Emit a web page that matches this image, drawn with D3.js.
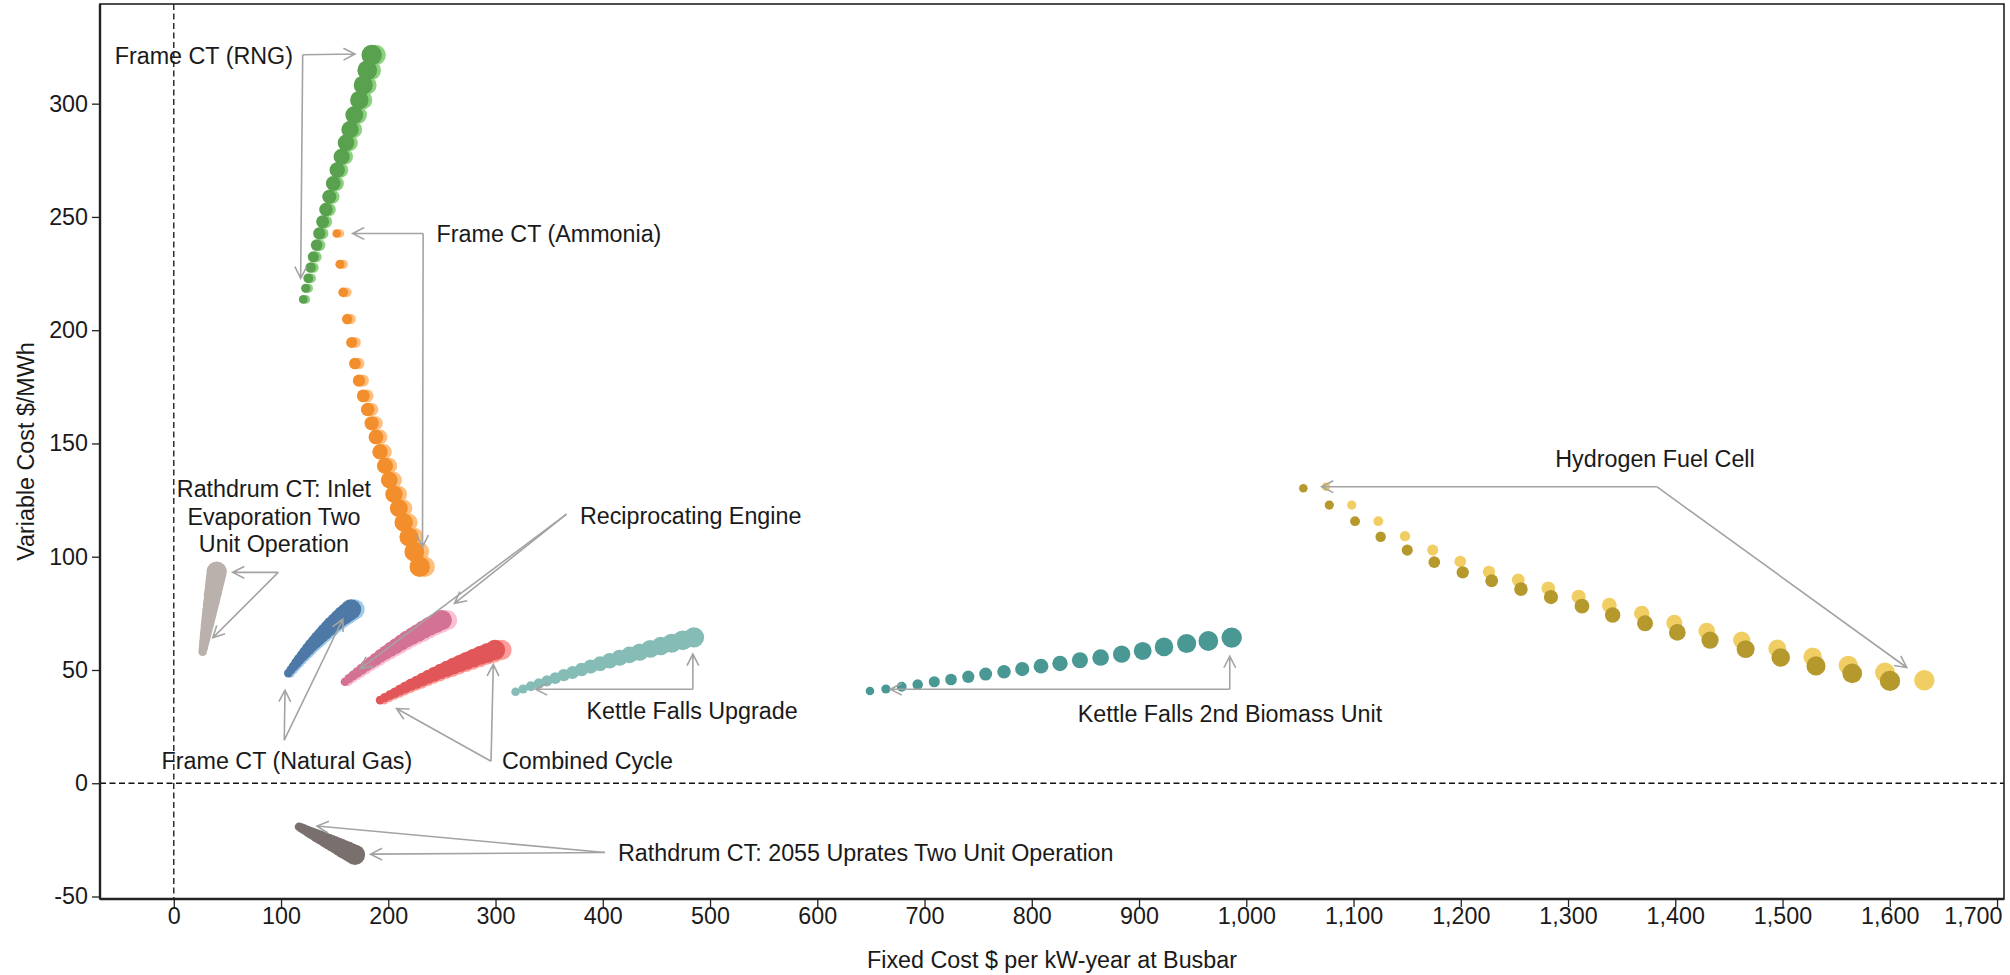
<!DOCTYPE html>
<html>
<head>
<meta charset="utf-8">
<script src="https://cdn.jsdelivr.net/npm/d3@7"></script>
<style>
  html, body { margin: 0; padding: 0; background: #fff; }
  svg { display: block; font-family: "Liberation Sans", Arial, sans-serif; }
</style>
</head>
<body>
<svg id="chart" width="2010" height="975"></svg>
<script>
// ---- Resource cost paths: fixed cost ($/kW-yr) vs variable cost ($/MWh) ----

const rngFixed       = [120.7,123.0,125.4,127.6,130.1,133.2,135.7,138.8,141.9,145.0,148.7,152.4,156.5,160.6,164.3,168.3,173.0,176.7,180.4,184.5];
const rngVariable    = [213.6,218.5,222.9,227.7,232.4,237.6,242.7,247.9,253.3,258.9,264.8,270.7,276.6,282.7,288.6,295.0,301.6,308.2,314.8,321.5];
const rngAltFixed    = [123.1,125.5,127.9,130.2,132.7,135.9,138.4,141.6,144.7,147.9,151.7,155.4,159.6,163.8,167.6,171.7,176.5,180.2,184.0,188.2];

const ammoniaFixed    = [151.9,155.0,158.0,161.7,165.9,168.9,172.7,176.7,180.8,184.5,188.5,192.3,196.9,200.9,205.3,209.8,214.4,219.3,224.3,229.3];
const ammoniaVariable = [242.7,229.1,216.7,204.9,194.6,185.3,177.7,171.0,165.0,158.9,152.9,146.3,140.1,133.8,127.6,121.4,115.1,108.7,102.2,95.6];
const ammoniaAltFixed = [154.9,158.1,161.2,164.9,169.2,172.3,176.2,180.2,184.4,188.2,192.3,196.1,200.8,204.9,209.4,214.0,218.7,223.7,228.8,233.9];

const inletFixed    = [26.9,27.5,28.0,28.6,29.2,29.8,30.4,31.1,31.7,32.4,33.1,33.8,34.5,35.3,36.0,36.8,37.6,38.4,39.2,40.0];
const inletVariable = [58.1,59.6,61.1,62.7,64.3,65.9,67.6,69.4,71.1,73.0,74.8,76.7,78.7,80.6,82.7,84.7,86.8,89.0,91.2,93.4];

const gasFixed    = [106.8,109.3,111.8,114.4,117.0,119.8,122.6,125.4,128.4,131.4,134.5,137.6,140.8,144.1,147.4,150.9,154.3,157.9,161.5,165.2];
const gasVariable = [48.6,50.1,51.6,53.2,54.7,56.2,57.8,59.3,60.9,62.4,63.9,65.4,66.9,68.4,69.9,71.3,72.7,74.1,75.4,76.7];
const gasAltFixed = [108.9,111.5,114.0,116.7,119.3,122.2,125.1,127.9,131.0,134.0,137.2,140.4,143.6,147.0,150.3,153.9,157.4,161.1,164.7,168.5];

const recipFixed    = [159.6,163.4,167.3,171.3,175.4,179.6,184.0,188.4,192.9,197.6,202.3,207.2,212.1,217.2,222.4,227.6,233.0,238.5,244.1,249.8];
const recipVariable = [44.8,46.2,47.6,49.0,50.4,51.9,53.3,54.8,56.3,57.7,59.2,60.6,62.1,63.6,65.0,66.4,67.9,69.3,70.6,72.0];
const recipAltFixed = [162.8,166.7,170.6,174.7,178.9,183.2,187.7,192.2,196.8,201.6,206.3,211.3,216.3,221.5,226.8,232.2,237.7,243.3,249.0,254.8];

const ccFixed    = [192.3,196.8,201.5,206.2,211.1,216.1,221.3,226.5,231.9,237.4,243.1,248.8,254.7,260.8,266.9,273.2,279.6,286.1,292.7,299.5];
const ccVariable = [36.7,37.8,38.9,40.0,41.2,42.3,43.5,44.6,45.8,47.0,48.2,49.4,50.5,51.7,52.9,54.1,55.3,56.5,57.6,58.8];
const ccAltFixed = [196.1,200.7,205.5,210.3,215.3,220.4,225.7,231.0,236.5,242.1,248.0,253.8,259.8,266.0,272.2,278.7,285.2,291.8,298.6,305.5];

const kfUpgradeFixed    = [318.7,325.7,332.9,340.3,347.9,355.7,363.6,371.8,380.2,388.7,397.5,406.4,415.6,424.9,434.4,444.2,454.1,464.2,474.5,485.0];
const kfUpgradeVariable = [40.4,41.6,42.8,44.0,45.2,46.4,47.7,48.9,50.2,51.5,52.8,54.1,55.4,56.7,57.9,59.3,60.6,61.8,63.1,64.4];

const kfBiomassFixed    = [649.1,664.0,678.7,693.6,709.1,724.7,740.8,757.0,774.1,791.1,808.6,826.3,844.9,864.2,883.8,903.4,923.3,944.4,964.6,986.4];
const kfBiomassVariable = [40.7,41.6,42.6,43.6,44.8,45.8,47.0,48.2,49.2,50.4,51.7,52.9,54.3,55.5,57.0,58.4,60.2,61.7,62.8,64.3];

const h2Fixed       = [1053.2,1077.4,1101.4,1125.3,1150.1,1175.3,1201.8,1228.8,1256.1,1284.1,1313.0,1341.6,1371.8,1401.9,1432.4,1465.6,1498.3,1531.2,1565.0,1600.2];
const h2Variable    = [130.2,122.8,115.7,108.8,102.9,97.6,93.1,89.4,85.7,82.2,78.2,74.3,70.6,66.6,63.2,59.2,55.5,51.8,48.5,45.2];
const h2AltFixed    = [1074.3,1098.3,1123.1,1148.0,1173.8,1199.5,1226.3,1253.6,1281.6,1309.9,1338.5,1368.7,1399.1,1429.3,1461.9,1495.1,1528.1,1561.3,1595.5,1632.2];
const h2AltVariable = [130.9,122.8,115.7,109.1,102.9,97.9,93.3,89.7,86.1,82.3,78.6,75.0,70.8,67.2,63.2,59.5,55.8,52.1,48.9,45.5];

const uprateFixed    = [116.8,119.0,121.2,123.6,125.9,128.4,130.9,133.4,136.1,138.7,141.5,144.3,147.1,150.1,153.1,156.1,159.2,162.4,165.6,168.9];
const uprateVariable = [-19.2,-19.7,-20.3,-20.8,-21.4,-22.0,-22.6,-23.2,-23.8,-24.4,-25.1,-25.7,-26.4,-27.1,-27.8,-28.5,-29.3,-30.0,-30.8,-31.6];

const xTickValues = [0,100,200,300,400,500,600,700,800,900,1000,1100,1200,1300,1400,1500,1600,1700];
const yTickValues = [-50,0,50,100,150,200,250,300];

// Series in drawing order (lighter companions underneath)
const series = [
  { fixed: rngAltFixed,     variable: rngVariable,       color: "#8cd17d" },
  { fixed: ammoniaAltFixed, variable: ammoniaVariable,   color: "#ffbe7d" },
  { fixed: gasAltFixed,     variable: gasVariable,       color: "#a0cbe8" },
  { fixed: recipAltFixed,   variable: recipVariable,     color: "#fabfd2" },
  { fixed: ccAltFixed,      variable: ccVariable,        color: "#ff9d9a" },
  { fixed: h2AltFixed,      variable: h2AltVariable,     color: "#f1ce63" },
  { fixed: rngFixed,        variable: rngVariable,       color: "#59a14f" },
  { fixed: ammoniaFixed,    variable: ammoniaVariable,   color: "#f28e2b" },
  { fixed: inletFixed,      variable: inletVariable,     color: "#bab0ac" },
  { fixed: gasFixed,        variable: gasVariable,       color: "#4e79a7" },
  { fixed: recipFixed,      variable: recipVariable,     color: "#d37295" },
  { fixed: ccFixed,         variable: ccVariable,        color: "#e15759" },
  { fixed: kfUpgradeFixed,  variable: kfUpgradeVariable, color: "#86bcb6" },
  { fixed: kfBiomassFixed,  variable: kfBiomassVariable, color: "#499894" },
  { fixed: h2Fixed,         variable: h2Variable,        color: "#b6992d" },
  { fixed: uprateFixed,     variable: uprateVariable,    color: "#79706e" }
];

// Callout labels with leader arrows (data coordinates)
const callouts = [
  { lines: ["Frame CT (RNG)"], anchor: "end", at: [111.1, 321.1], from: [120.2, 321.6], to: [[169.0, 321.9], [118.3, 222.9]] },
  { lines: ["Frame CT (Ammonia)"], anchor: "start", at: [245.0, 242.7], from: [232.5, 242.7], to: [[166.8, 242.7], [231.9, 104.4]] },
  { lines: ["Rathdrum CT: Inlet", "Evaporation Two", "Unit Operation"], anchor: "middle", at: [93.4, 117.7], from: [97.4, 93.1], to: [[54.9, 93.1], [36.3, 64.2]] },
  { lines: ["Reciprocating Engine"], anchor: "start", at: [378.7, 118.1], from: [366.2, 118.8], to: [[261.7, 79.4], [173.9, 50.6]] },
  { lines: ["Frame CT (Natural Gas)"], anchor: "middle", at: [105.5, 9.9], from: [103.0, 19.0], to: [[103.7, 41.1], [157.6, 72.5]] },
  { lines: ["Combined Cycle"], anchor: "start", at: [306.0, 9.9], from: [295.8, 9.7], to: [[207.7, 33.0], [297.9, 52.5]] },
  { lines: ["Kettle Falls Upgrade"], anchor: "middle", at: [483.3, 32.0], from: [484.0, 41.5], to: [[337.4, 41.5], [484.0, 57.0]] },
  { lines: ["Kettle Falls 2nd Biomass Unit"], anchor: "middle", at: [984.8, 30.8], from: [984.6, 41.5], to: [[668.1, 41.5], [984.6, 56.1]] },
  { lines: ["Hydrogen Fuel Cell"], anchor: "middle", at: [1381.1, 143.1], from: [1382.7, 130.9], to: [[1070.3, 130.9], [1615.8, 51.1]] },
  { lines: ["Rathdrum CT: 2055 Uprates Two Unit Operation"], anchor: "start", at: [414.2, -30.6], from: [402.1, -30.6], to: [[133.5, -18.9], [183.4, -31.3]] }
];

// ---- Layout ----
const W = 2010, H = 975;
const plot = { left: 100, right: 2004, top: 4, bottom: 899 };
const fontSize = 23.3;
const textColor = "#1a1a1a";

const svg = d3.select("#chart");

const x = d3.scaleLinear().domain([-68.8, 1706.5]).range([plot.left, plot.right]);
const y = d3.scaleLinear().domain([-51.1, 344.0]).range([plot.bottom, plot.top]);
const radius = d3.scaleLinear().domain([0, 19]).range([4.3, 10.2]);

// zero reference lines
svg.append("line")
  .attr("x1", x(0)).attr("x2", x(0))
  .attr("y1", plot.top).attr("y2", plot.bottom)
  .attr("stroke", "#111").attr("stroke-width", 1.3).attr("stroke-dasharray", "6,3.5");
svg.append("line")
  .attr("x1", plot.left).attr("x2", plot.right)
  .attr("y1", y(0)).attr("y2", y(0))
  .attr("stroke", "#111").attr("stroke-width", 1.3).attr("stroke-dasharray", "6,3.5");

// bubbles
const marks = svg.append("g");
series.forEach(s => {
  marks.append("g")
    .selectAll("circle")
    .data(s.fixed.map((f, i) => ({ f, v: s.variable[i], i })))
    .join("circle")
    .attr("cx", d => x(d.f))
    .attr("cy", d => y(d.v))
    .attr("r", d => radius(d.i))
    .attr("fill", s.color);
});

// frame
svg.append("rect")
  .attr("x", plot.left).attr("y", plot.top)
  .attr("width", plot.right - plot.left).attr("height", plot.bottom - plot.top)
  .attr("fill", "none").attr("stroke", "#222").attr("stroke-width", 1.6);

// axes
const xAxis = svg.append("g")
  .attr("transform", `translate(0,${plot.bottom})`)
  .call(d3.axisBottom(x).tickValues(xTickValues).tickFormat(d3.format(",")).tickSize(8).tickPadding(0));
const yAxis = svg.append("g")
  .attr("transform", `translate(${plot.left},0)`)
  .call(d3.axisLeft(y).tickValues(yTickValues).tickFormat(d => String(d)).tickSize(8).tickPadding(4));

[xAxis, yAxis].forEach(g => {
  g.select(".domain").attr("stroke", "#222").attr("stroke-width", 2.4);
  g.selectAll(".tick line").attr("stroke", "#222").attr("stroke-width", 1.3);
  g.selectAll(".tick text")
    .attr("font-size", fontSize)
    .attr("font-family", "'Liberation Sans', Arial, sans-serif")
    .attr("fill", textColor);
});
xAxis.select(".domain").attr("d", `M${plot.left},0H${plot.right}`);
yAxis.select(".domain").attr("d", `M0,${plot.top}V${plot.bottom}`);

// keep the last x tick label inside the canvas
xAxis.selectAll(".tick text").each(function (d) {
  const bb = this.getBBox();
  const cx = x(d);
  const right = cx + bb.width / 2;
  if (right > W - 8) {
    d3.select(this).attr("text-anchor", "end").attr("x", (W - 8) - cx);
  }
});

// axis titles
svg.append("text")
  .attr("x", (plot.left + plot.right) / 2).attr("y", 960)
  .attr("dy", "0.35em")
  .attr("text-anchor", "middle")
  .attr("font-size", fontSize).attr("fill", textColor)
  .text("Fixed Cost $ per kW-year at Busbar");

svg.append("text")
  .attr("transform", `translate(26,${(plot.top + plot.bottom) / 2}) rotate(-90)`)
  .attr("dy", "0.35em")
  .attr("text-anchor", "middle")
  .attr("font-size", fontSize).attr("fill", textColor)
  .text("Variable Cost $/MWh");

// callouts
const notes = svg.append("g");
const arrowColor = "#a3a3a3";
const headLen = 13, headAngle = 27 * Math.PI / 180;
const lineHeight = 27.3;

callouts.forEach(c => {
  const ox = x(c.from[0]), oy = y(c.from[1]);
  c.to.forEach(t => {
    const tx = x(t[0]), ty = y(t[1]);
    const ang = Math.atan2(ty - oy, tx - ox);
    const a1 = ang + Math.PI - headAngle, a2 = ang + Math.PI + headAngle;
    const path = d3.path();
    path.moveTo(ox, oy);
    path.lineTo(tx, ty);
    path.moveTo(tx + headLen * Math.cos(a1), ty + headLen * Math.sin(a1));
    path.lineTo(tx, ty);
    path.lineTo(tx + headLen * Math.cos(a2), ty + headLen * Math.sin(a2));
    notes.append("path")
      .attr("d", path.toString())
      .attr("fill", "none")
      .attr("stroke", arrowColor)
      .attr("stroke-width", 1.6);
  });

  const n = c.lines.length;
  const t = notes.append("text")
    .attr("x", x(c.at[0]))
    .attr("y", y(c.at[1]) - (n - 1) * lineHeight / 2)
    .attr("text-anchor", c.anchor)
    .attr("font-size", fontSize)
    .attr("fill", textColor);
  c.lines.forEach((line, i) => {
    t.append("tspan")
      .attr("x", x(c.at[0]))
      .attr("dy", i === 0 ? "0.35em" : lineHeight)
      .text(line);
  });
});
</script>
</body>
</html>
